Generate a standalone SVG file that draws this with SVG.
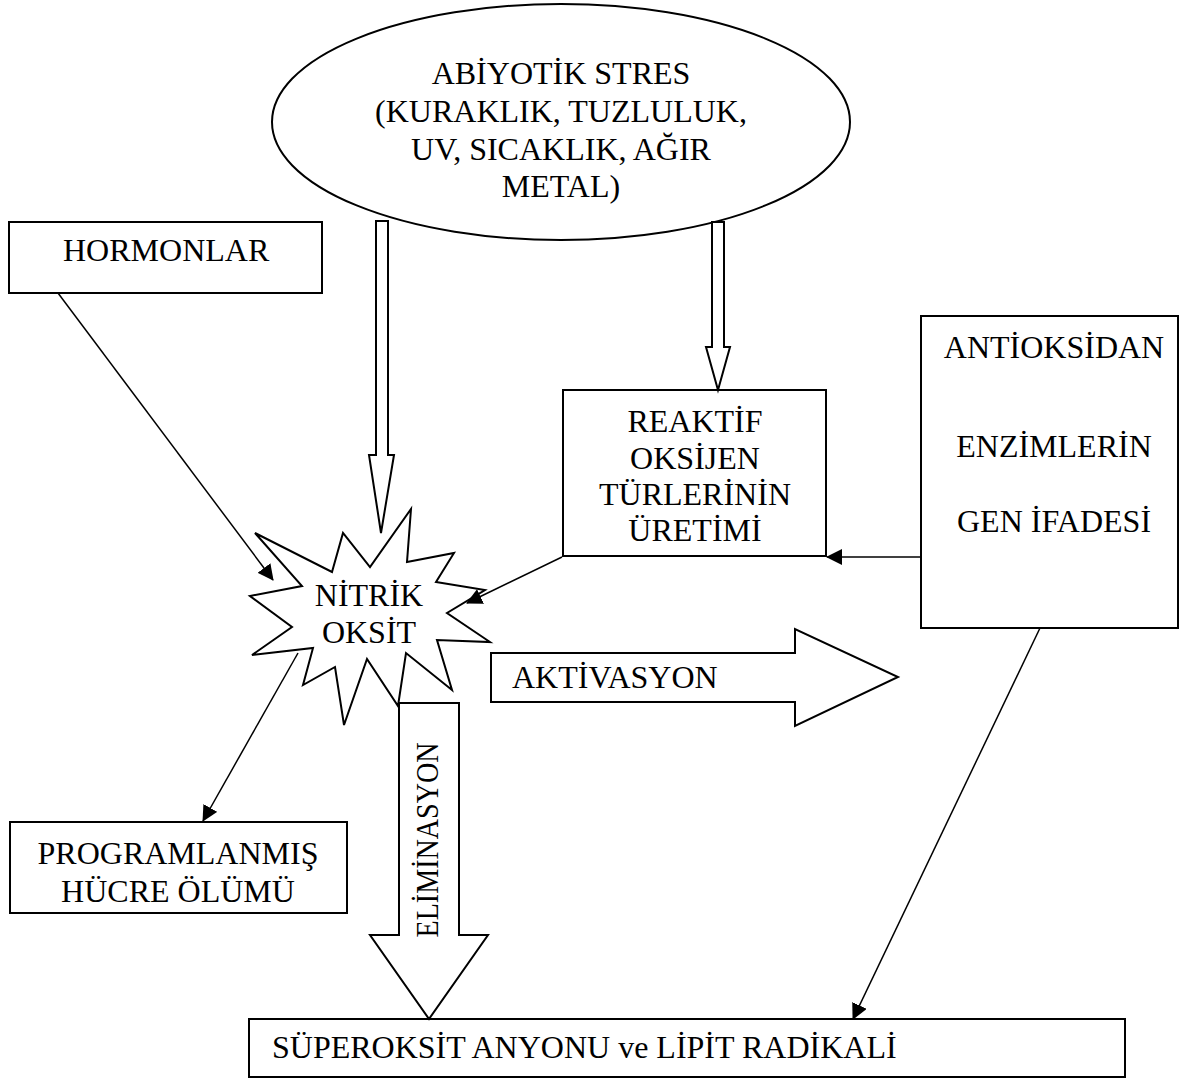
<svg xmlns="http://www.w3.org/2000/svg" width="1188" height="1088" viewBox="0 0 1188 1088">
<style>
.s{fill:#fff;stroke:#000;stroke-width:2}
.t{font-family:"Liberation Serif","Times New Roman",serif;font-size:32px;fill:#000}
.m{text-anchor:middle}
.c{fill:none;stroke:#000;stroke-width:1.5}
</style>
<defs>
<marker id="ah" markerUnits="userSpaceOnUse" markerWidth="16" markerHeight="16" viewBox="0 0 16 16" refX="15" refY="8" orient="auto">
<path d="M0,0 L16,8 L0,16 Z" fill="#000"/>
</marker>
</defs>
<rect width="1188" height="1088" fill="#fff"/>
<g id="abiyotik">
<ellipse class="s" cx="561" cy="122" rx="289" ry="118"/>
<text class="t m" x="561" y="84">ABİYOTİK STRES</text>
<text class="t m" x="561" y="122">(KURAKLIK, TUZLULUK,</text>
<text class="t m" x="561" y="160">UV, SICAKLIK, AĞIR</text>
<text class="t m" x="561" y="197">METAL)</text>
</g>
<g id="hormonlar">
<rect class="s" x="9" y="222" width="313" height="71"/>
<text class="t" x="63" y="261">HORMONLAR</text>
</g>
<g id="nitrik">
<polygon class="s" points="411,509 407,562 454,553 436,582 485,590 447,613 490,642 437,640 452,690 406,653 398,706 367,659 344,725 335,667 303,685 313,648 252,655 292,627 250,596 302,586 255,533 332,572 343,533 370,567"/>
<text class="t m" x="369" y="606">NİTRİK</text>
<text class="t m" x="369" y="643">OKSİT</text>
</g>
<g id="ros">
<rect class="s" x="563" y="390" width="263" height="166"/>
<text class="t m" x="695" y="432">REAKTİF</text>
<text class="t m" x="695" y="469">OKSİJEN</text>
<text class="t m" x="695" y="505">TÜRLERİNİN</text>
<text class="t m" x="695" y="541">ÜRETİMİ</text>
</g>
<g id="antioksidan">
<rect class="s" x="921" y="316" width="257" height="312"/>
<text class="t m" x="1054" y="358">ANTİOKSİDAN</text>
<text class="t m" x="1054" y="457">ENZİMLERİN</text>
<text class="t m" x="1054" y="532">GEN İFADESİ</text>
</g>
<g id="programlanmis">
<rect class="s" x="10" y="822" width="337" height="91"/>
<text class="t m" x="178" y="864">PROGRAMLANMIŞ</text>
<text class="t m" x="178" y="902">HÜCRE ÖLÜMÜ</text>
</g>
<g id="superoksit">
<rect class="s" x="249" y="1019" width="876" height="58"/>
<text class="t" x="272" y="1058">SÜPEROKSİT ANYONU ve LİPİT RADİKALİ</text>
</g>
<g id="connectors">
<polygon class="s" points="376,221 388,221 388,455 394,455 381,533 369,455 376,455"/>
<polygon class="s" points="712,222 724,222 724,347 730,347 718,390 706,347 712,347"/>
<line class="c" x1="58" y1="293" x2="273" y2="580" marker-end="url(#ah)"/>
<line class="c" x1="562" y1="557" x2="467" y2="603" marker-end="url(#ah)"/>
<line class="c" x1="921" y1="557" x2="827" y2="557" marker-end="url(#ah)"/>
<line class="c" x1="1040" y1="628" x2="853" y2="1019" marker-end="url(#ah)"/>
<line class="c" x1="298" y1="653" x2="203" y2="821" marker-end="url(#ah)"/>
<g id="aktivasyon">
<polygon class="s" points="491,653 795,653 795,629 898,677 795,726 795,702 491,702"/>
<text class="t" x="512" y="688">AKTİVASYON</text>
</g>
<g id="eliminasyon">
<polygon class="s" points="399,703 459,703 459,935 488,935 429,1019 370,935 399,935"/>
<text class="t m" x="438" y="840" transform="rotate(-90 438 840)" font-size="30" textLength="195" lengthAdjust="spacingAndGlyphs">ELİMİNASYON</text>
</g>
</g>
</svg>
